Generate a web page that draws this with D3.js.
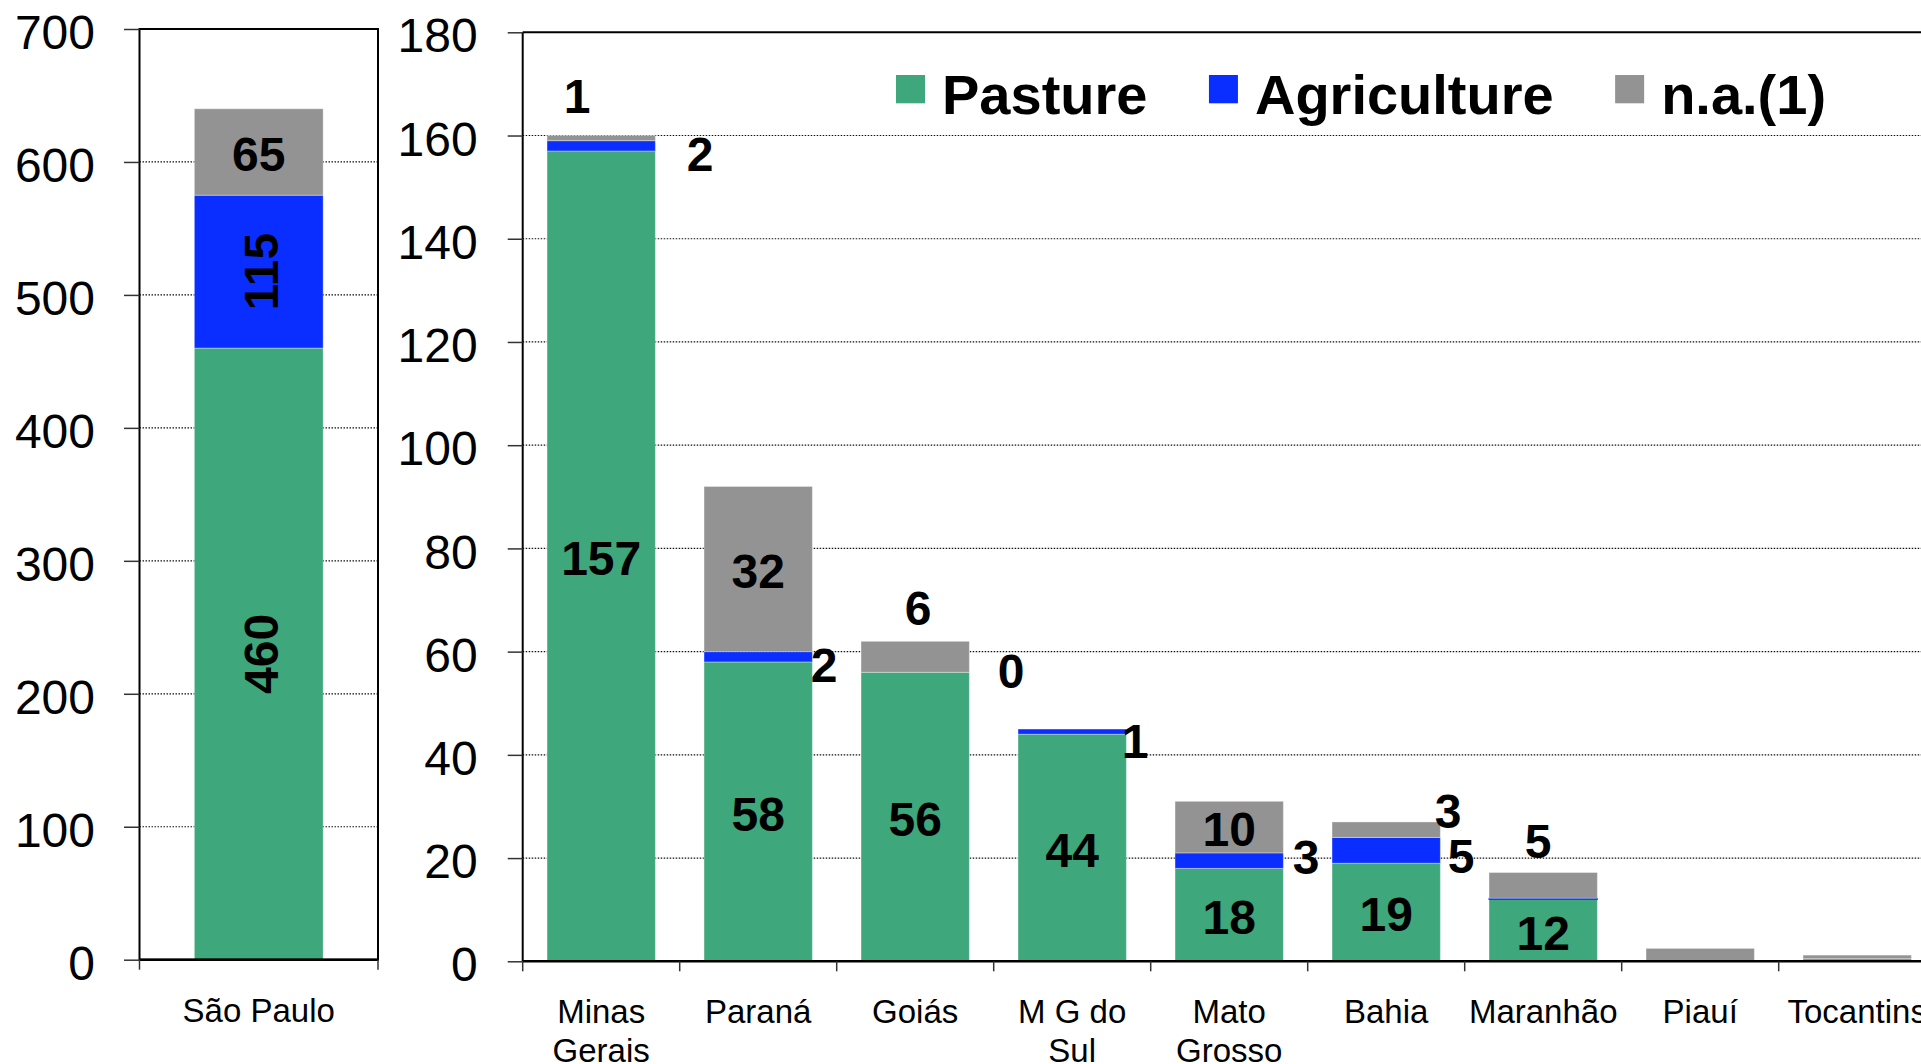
<!DOCTYPE html>
<html>
<head>
<meta charset="utf-8">
<script src="https://cdn.jsdelivr.net/npm/d3@7"></script>
<style>
  html, body { margin: 0; padding: 0; background: #fff; overflow: hidden; }
  svg { display: block; }
</style>
</head>
<body>
<svg id="chart" width="1921" height="1064"></svg>
<script>
// ---- São Paulo (own scale) ----
const spCategories = ["São Paulo"];
const spPasture = [460];
const spAgriculture = [115];
const spNA = [65];
const spTicks = [0, 100, 200, 300, 400, 500, 600, 700];

// ---- Other states ----
const stateCategories = ["Minas\nGerais", "Paraná", "Goiás", "M G do\nSul", "Mato\nGrosso",
                         "Bahia", "Maranhão", "Piauí", "Tocantins"];
const statePasture     = [157, 58, 56, 44, 18, 19, 12,  0,   0.5];
const stateAgriculture = [2,    2,  0,  1,  3,  5,  0.2, 0,   0];
const stateNA          = [1,   32,  6,  0, 10,  3,  5,   2.5, 0.7];
const stateTicks = [0, 20, 40, 60, 80, 100, 120, 140, 160, 180];

const seriesNames = ["Pasture", "Agriculture", "n.a.(1)"];
const seriesKeys = ["pasture", "agriculture", "na"];
const seriesColors = ["#3ea77b", "#0a2eff", "#939393"];

// Where each value label sits: "in" = centred in its segment, "rot" = centred and
// turned upright, [dx, dy] = offset from the segment centre, null = no label.
const spLabelPlacement = [["rot", "rot", "in"]];
const stateLabelPlacement = [
  ["in", [99, 6],  [-24, -44]],   // Minas Gerais
  ["in", [66, 6],  "in"],         // Paraná
  ["in", [96, -3], [3, -51]],     // Goiás
  ["in", [63, 7],  null],         // M G do Sul
  ["in", [77, -6], "in"],         // Mato Grosso
  ["in", [75, 3],  [62, -21]],    // Bahia
  ["in", null,     [-5, -47]],    // Maranhão
  [null, null, null],             // Piauí
  [null, null, null]              // Tocantins
];

const FONT = "'Liberation Sans', Arial, Helvetica, sans-serif";
const svg = d3.select("#chart").style("font-family", FONT);

const color = d3.scaleOrdinal().domain(seriesKeys).range(seriesColors);
const stack = d3.stack().keys(seriesKeys);

function rows(cats, p, a, n) {
  return cats.map((c, i) => ({ cat: c, pasture: p[i], agriculture: a[i], na: n[i] }));
}

function drawPanel(cfg) {
  const { cats, data, ticks, x, y, placement, left, right, top, bottom, fullFrame, tickLen, tickPad } = cfg;
  const g = svg.append("g");

  // dotted gridlines
  g.append("g").selectAll("line")
    .data(ticks.filter(t => t !== ticks[0] && t !== ticks[ticks.length - 1]))
    .join("line")
    .attr("x1", left).attr("x2", right)
    .attr("y1", d => y(d)).attr("y2", d => y(d))
    .attr("stroke", "#111").attr("stroke-width", 1.2)
    .attr("stroke-dasharray", "1.5 1.5");

  // stacked bars
  const series = stack(data);
  g.append("g").selectAll("g")
    .data(series)
    .join("g")
    .attr("fill", d => color(d.key))
    .selectAll("rect")
    .data(d => d.map(s => ({ s, key: d.key })))
    .join("rect")
    .attr("x", d => x(d.s.data.cat))
    .attr("width", x.bandwidth())
    .attr("y", d => y(d.s[1]))
    .attr("height", d => Math.max(0, y(d.s[0]) - y(d.s[1])))
    .attr("stroke", d => (y(d.s[0]) - y(d.s[1]) < 3 && d.key === "agriculture") ? color(d.key) : "rgba(255,255,255,0.35)")
    .attr("stroke-width", 1);

  // frame / axis lines
  if (fullFrame) {
    g.append("rect")
      .attr("x", left).attr("y", top)
      .attr("width", right - left).attr("height", bottom - top)
      .attr("fill", "none").attr("stroke", "#000").attr("stroke-width", 2);
  } else {
    g.append("line").attr("x1", left).attr("x2", right).attr("y1", top).attr("y2", top)
      .attr("stroke", "#000").attr("stroke-width", 2);
    g.append("line").attr("x1", left).attr("x2", left).attr("y1", top).attr("y2", bottom)
      .attr("stroke", "#000").attr("stroke-width", 2);
  }
  g.append("line").attr("x1", left).attr("x2", right).attr("y1", bottom).attr("y2", bottom)
    .attr("stroke", "#000").attr("stroke-width", 2.5);

  // y axis
  const yAxis = g.append("g")
    .attr("transform", `translate(${left},0)`)
    .call(d3.axisLeft(y).tickValues(ticks).tickSize(tickLen).tickPadding(tickPad));
  yAxis.select(".domain").remove();
  yAxis.selectAll(".tick line").attr("stroke", "#333").attr("stroke-width", 1.5);
  yAxis.selectAll(".tick text")
    .attr("dy", "0.41em")
    .style("font-family", FONT).style("font-size", "48px").attr("fill", "#000");

  // x axis ticks at band boundaries
  const step = x.step();
  const edge = step * x.paddingInner() / 2;
  const bounds = cats.map(c => x(c) - edge).concat([x(cats[cats.length - 1]) + x.bandwidth() + edge]);
  g.append("g").selectAll("line")
    .data(bounds)
    .join("line")
    .attr("x1", d => d).attr("x2", d => d)
    .attr("y1", bottom).attr("y2", bottom + 10)
    .attr("stroke", "#333").attr("stroke-width", 1.5);

  // category labels (may wrap on two lines)
  const cl = g.append("g").selectAll("text")
    .data(cats)
    .join("text")
    .attr("x", d => x(d) + x.bandwidth() / 2)
    .attr("y", bottom + 62)
    .attr("text-anchor", "middle")
    .style("font-size", "33px")
    .attr("fill", "#000");
  cl.selectAll("tspan")
    .data(d => d.split("\n"))
    .join("tspan")
    .attr("x", function () { return d3.select(this.parentNode).attr("x"); })
    .attr("dy", (d, i) => i === 0 ? 0 : 38.5)
    .text(d => d);

  // value labels
  const labels = [];
  series.forEach((s, si) => {
    s.forEach((seg, ci) => {
      const place = placement[ci][si];
      if (place === null) return;
      const cx = x(seg.data.cat) + x.bandwidth() / 2;
      const cy = (y(seg[0]) + y(seg[1])) / 2;
      const v = seg[1] - seg[0];
      if (place === "in") labels.push({ x: cx, y: cy, v, rot: false });
      else if (place === "rot") labels.push({ x: cx, y: cy, v, rot: true });
      else labels.push({ x: cx + place[0], y: cy + place[1], v, rot: false });
    });
  });
  g.append("g").selectAll("text")
    .data(labels)
    .join("text")
    .attr("transform", d => `translate(${d.x},${d.y})` + (d.rot ? " rotate(-90)" : ""))
    .attr("text-anchor", "middle")
    .attr("dy", "0.4em")
    .style("font-size", "48px")
    .style("font-weight", "bold")
    .attr("fill", "#000")
    .text(d => d3.format(".0f")(d.v));
}

// ---- São Paulo panel ----
const spLeft = 139.5, spRight = 378, spTop = 29, spBottom = 959.7;
const xSP = d3.scaleBand().domain(spCategories).range([spLeft, spRight])
  .paddingInner(0.46).paddingOuter(0.23);
const ySP = d3.scaleLinear().domain([0, 700]).range([spBottom, spTop]);
drawPanel({
  cats: spCategories, data: rows(spCategories, spPasture, spAgriculture, spNA),
  ticks: spTicks, x: xSP, y: ySP, placement: spLabelPlacement,
  left: spLeft, right: spRight, top: spTop, bottom: spBottom, fullFrame: true,
  tickLen: 15.5, tickPad: 29
});

// ---- States panel ----
const stLeft = 522.7, stStep = 157, stTop = 32.3, stBottom = 961.3;
const stRight = stLeft + stStep * stateCategories.length;
const xST = d3.scaleBand().domain(stateCategories).range([stLeft, stRight])
  .paddingInner(0.31).paddingOuter(0.155);
const yST = d3.scaleLinear().domain([0, 180]).range([stBottom, stTop]);
drawPanel({
  cats: stateCategories, data: rows(stateCategories, statePasture, stateAgriculture, stateNA),
  ticks: stateTicks, x: xST, y: yST, placement: stateLabelPlacement,
  left: stLeft, right: stRight, top: stTop, bottom: stBottom, fullFrame: false,
  tickLen: 15, tickPad: 30
});

// ---- Legend ----
const legend = svg.append("g");
let lx = 896;
seriesNames.forEach((name, i) => {
  const item = legend.append("g");
  item.append("rect")
    .attr("x", lx).attr("y", 75).attr("width", 29).attr("height", 28.3)
    .attr("fill", seriesColors[i]);
  const t = item.append("text")
    .attr("x", lx + 46).attr("y", 114)
    .style("font-size", "56px").style("font-weight", "bold")
    .attr("fill", "#000")
    .text(name);
  lx += 46 + t.node().getComputedTextLength() + 61.5;
});
</script>
</body>
</html>
